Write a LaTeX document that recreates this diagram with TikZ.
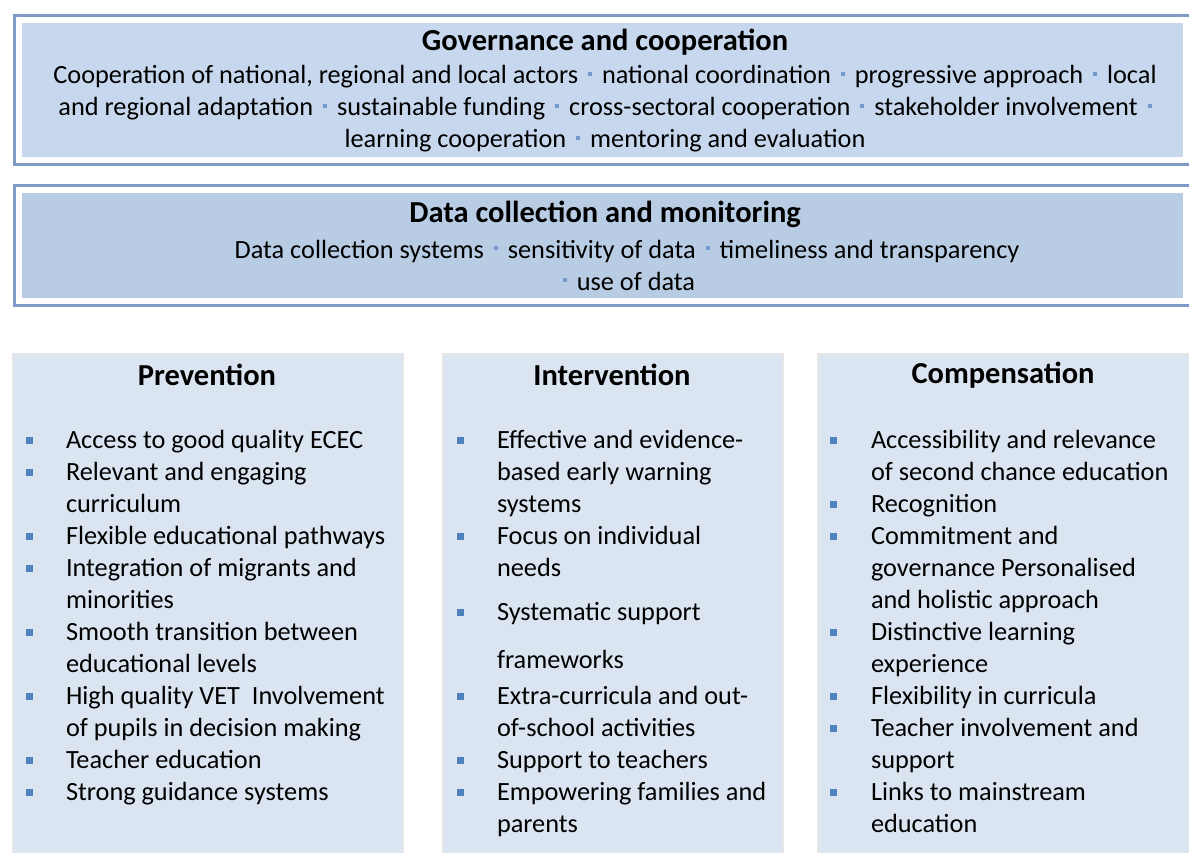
\documentclass[tikz,border=0pt]{standalone}
\usepackage{fontspec}
\setmainfont{Carlito}

\definecolor{govfill}{HTML}{C6D7EE}
\definecolor{datafill}{HTML}{B8CCE4}
\definecolor{colfill}{HTML}{DBE5F1}
\definecolor{frameblue}{HTML}{7F9CC6}
\definecolor{bulblue}{HTML}{4F81BD}
\definecolor{colline}{HTML}{E6E6E6}

\newcommand{\sepsq}{\hspace{4pt}\raisebox{0.3em}{\textcolor{bulblue!80}{\rule{4pt}{4pt}}}\hspace{4pt}}

\begin{document}
\begin{tikzpicture}[x=1pt,y=-1pt,
  every node/.style={inner sep=0pt, outer sep=0pt},
  topbox/.style={anchor=north west, draw=white, line width=6pt,
    preaction={draw=frameblue, line width=12pt}},
  colbox/.style={anchor=north west, fill=colfill, draw=colline, line width=2pt},
  head/.style={font=\fontsize{30.5}{34}\selectfont\bfseries},
  body/.style={font=\fontsize{26.3}{32}\selectfont, align=center},
  item/.style={font=\fontsize{26.3}{32}\selectfont, align=left, anchor=base west},
  bul/.style={fill=bulblue, minimum size=7pt}]
\useasboundingbox (0,0) rectangle (1189,852);

% top boxes
\node[topbox, fill=govfill, minimum width=1167pt, minimum height=140pt] (gov) at (19,20) {};
\node[topbox, fill=datafill, minimum width=1167pt, minimum height=111pt] (data) at (19,190) {};

\node[head] (govtitle) at (605,42) {Governance and cooperation};
\node[body] (govtext) at (605,109) {Cooperation of national, regional and local actors \sepsq\ national coordination \sepsq\ progressive approach \sepsq\ local\\
and regional adaptation \sepsq\ sustainable funding \sepsq\ cross-sectoral cooperation \sepsq\ stakeholder involvement \sepsq\\
learning cooperation \sepsq\ mentoring and evaluation};

\node[head] (datatitle) at (605,214) {Data collection and monitoring};
\node[body] (datatext) at (627,265) {Data collection systems \sepsq\ sensitivity of data \sepsq\ timeliness and transparency\\
\sepsq\ use of data};

% three columns
\node[colbox, minimum width=390pt, minimum height=510pt] (prev) at (13,354) {};
\node[colbox, minimum width=340pt, minimum height=510pt] (inter) at (443,354) {};
\node[colbox, minimum width=380pt, minimum height=510pt] (comp) at (818,354) {};

\node[head] (prevtitle) at (207,375) {Prevention};
\node[head] (intertitle) at (612,375) {Intervention};
\node[head] (comptitle) at (1003,375) {Compensation};

% first line / last line of each item
\foreach \yy/\ll/\txt [count=\i] in {440/440/{Access to good quality ECEC},
    472/504/{Relevant and engaging\\curriculum},
    536/536/{Flexible educational pathways},
    568/600/{Integration of migrants and\\minorities},
    632/664/{Smooth transition between\\educational levels},
    696/728/{High quality VET\ \ Involvement\\of pupils in decision making},
    760/760/{Teacher education},
    792/792/{Strong guidance systems}} {
  \node[bul] (pb\i) at (29,\yy) {};
  \node[item] (p\i) at (66,\ll+8) {\txt};
}

\foreach \yy/\ll/\txt [count=\i] in {440/504/{Effective and evidence-\\based early warning\\systems},
    536/568/{Focus on individual\\needs},
    612/660/{Systematic support\\[16pt]frameworks},
    696/728/{Extra-curricula and out-\\of-school activities},
    760/760/{Support to teachers},
    792/824/{Empowering families and\\parents}} {
  \node[bul] (ib\i) at (460,\yy) {};
  \node[item] (i\i) at (497,\ll+8) {\txt};
}

\foreach \yy/\ll/\txt [count=\i] in {440/472/{Accessibility and relevance\\of second chance education},
    504/504/{Recognition},
    536/600/{Commitment and\\governance Personalised\\and holistic approach},
    632/664/{Distinctive learning\\experience},
    696/696/{Flexibility in curricula},
    728/760/{Teacher involvement and\\support},
    792/824/{Links to mainstream\\education}} {
  \node[bul] (cb\i) at (833,\yy) {};
  \node[item] (c\i) at (871,\ll+8) {\txt};
}
\end{tikzpicture}
\end{document}
